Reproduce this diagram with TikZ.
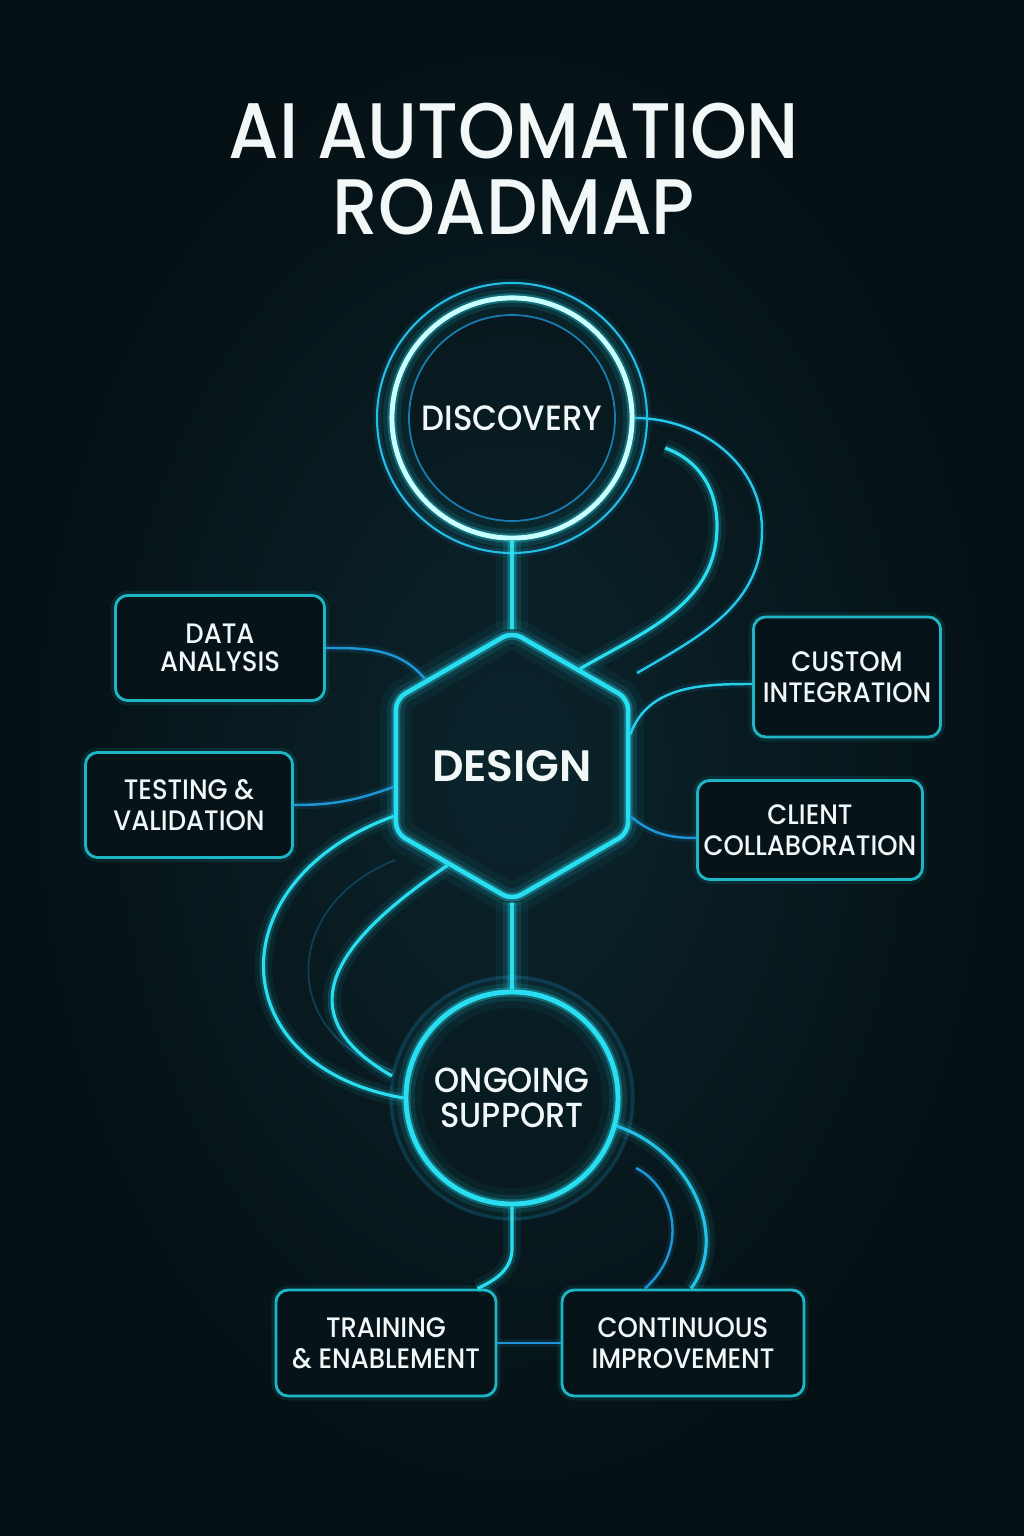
\documentclass[tikz,border=0pt]{standalone}
\usepackage{fontspec}
\setmainfont{Poppins Medium}[FakeStretch=0.92]
\newfontfamily\headfont{Poppins SemiBold}
\usetikzlibrary{shapes.geometric}

\definecolor{bgdark}{RGB}{5,16,20}
\definecolor{bglight}{RGB}{11,36,44}
\definecolor{boxfill}{RGB}{6,20,25}
\definecolor{neon}{RGB}{40,222,240}
\definecolor{neoncore}{RGB}{200,255,255}
\definecolor{boxline}{RGB}{30,182,196}
\definecolor{wire}{RGB}{28,150,214}
\definecolor{label}{RGB}{242,247,247}

\tikzset{
  glow/.style={preaction={draw=#1, line width=9pt, opacity=0.05},
               preaction={draw=#1, line width=5pt, opacity=0.11},
               preaction={draw=#1, line width=2.6pt, opacity=0.3}},
  softglow/.style={preaction={draw=#1, line width=5pt, opacity=0.07},
                   preaction={draw=#1, line width=2.4pt, opacity=0.18}},
  ring/.style={circle, draw=#1, line width=1.4pt, glow=neon, text=label, align=center, inner sep=0pt},
  hexnode/.style={regular polygon, regular polygon sides=6, shape border rotate=30, draw=neon, line width=1.3pt,
                  rounded corners=3pt, glow=neon, inner sep=0pt, minimum size=2.68cm, text=label,
                  font=\headfont\fontsize{12.5}{13}\selectfont},
  tile/.style={rectangle, rounded corners=3.5pt, draw=boxline, line width=0.8pt, fill=boxfill,
               preaction={draw=boxline, line width=2.6pt, opacity=0.12},
               text=label, align=center, inner sep=0pt, font=\fontsize{8}{8.8}\selectfont},
  beam/.style={draw=neon, line width=1.1pt, glow=neon},
  arcline/.style={draw=neon, line width=0.9pt, softglow=neon},
  wire/.style={draw=wire, line width=0.7pt, preaction={draw=wire, line width=2.4pt, opacity=0.12}},
  faintwire/.style={draw=wire, line width=0.5pt, opacity=0.3}
}

\begin{document}
\begin{tikzpicture}[x=0.01cm, y=0.01cm]
\shade[inner color=bglight, outer color=bgdark] (0,0) rectangle (1024,1536);
\useasboundingbox (0,0) rectangle (1024,1536);

\node[text=label, align=center, font=\fontsize{22.4}{21.6}\selectfont] (title) at (514,1367) {AI AUTOMATION\\ROADMAP};

% main stages
\node[ring=neoncore, minimum size=2.4cm, font=\fontsize{10}{10}\selectfont] (disc) at (512,1118) {DISCOVERY};
\draw[wire, draw=neon!55!wire, line width=0.6pt] (disc.center) circle (135);
\draw[faintwire, opacity=0.8] (disc.center) circle (103);
\node[hexnode] (hex) at (512,770) {DESIGN};
\node[ring=neon, minimum size=2.12cm, font=\fontsize{9.9}{10}\selectfont] (ong) at (512,438) {ONGOING\\SUPPORT};
\draw[faintwire, opacity=0.2, line width=1pt] (ong.center) circle (121);

% side tasks
\node[tile, minimum width=2.09cm, minimum height=1.05cm, font=\fontsize{8}{7.9}\selectfont] (data) at (220,888) {DATA\\ANALYSIS};
\node[tile, minimum width=2.07cm, minimum height=1.05cm] (test) at (189,731) {TESTING \&\\VALIDATION};
\node[tile, minimum width=1.87cm, minimum height=1.20cm] (cust) at (847,859) {CUSTOM\\INTEGRATION};
\node[tile, minimum width=2.25cm, minimum height=0.99cm] (client) at (810,706) {CLIENT\\COLLABORATION};
\node[tile, minimum width=2.20cm, minimum height=1.06cm] (train) at (386,193) {TRAINING\\\& ENABLEMENT};
\node[tile, minimum width=2.42cm, minimum height=1.06cm] (cont) at (683,193) {CONTINUOUS\\IMPROVEMENT};

\coordinate (bendA) at (717,1010);
\coordinate (discin) at (665,1088);
\coordinate (bendB) at (762,1006);
\coordinate (discfade) at (637,863);
\coordinate (ongin) at (392,460);
\coordinate (ongrin) at (636,368);

% spine
\draw[beam] (disc.south) -- (hex.90);
\draw[beam] (hex.270) -- (ong.north);
\draw[arcline] (ong.south) -- ++(0,-42) to[out=-90,in=25] ([xshift=-0.2cm]train.north east);
\draw[wire] (train.east) -- (cont.west);

% loops
\draw[wire, draw=neon!70!wire] (disc.east) to[out=0,in=90] (bendB) to[out=-90,in=30] (discfade);
\draw[arcline] (discin) to[out=-20,in=90] (bendA) to[out=-90,in=30] (hex.55);
\draw[arcline] (hex.203) .. controls (217,656) and (220,470) .. (ong.180);
\draw[faintwire] (395,676) .. controls (280,630) and (280,500) .. (392,466);
\draw[arcline] (hex.237) .. controls (342,599) and (279,525) .. (ongin);
\draw[arcline, draw=neon!60!wire] (ong.-15) .. controls (690,385) and (730,300) .. ([xshift=0.08cm]cont.north);
\draw[wire] (ongrin) .. controls (672,350) and (692,290) .. ([xshift=-0.38cm]cont.north);

% branches
\draw[wire] (data.east) to[out=0,in=130] (hex.135);
\draw[wire] (test.east) to[out=0,in=200] (hex.190);
\draw[wire, draw=neon!80!wire] ([yshift=-0.07cm]cust.west) to[out=180,in=70] (hex.15);
\draw[wire] ([yshift=-0.08cm]client.west) to[out=180,in=-40] (hex.-23);
\end{tikzpicture}
\end{document}
